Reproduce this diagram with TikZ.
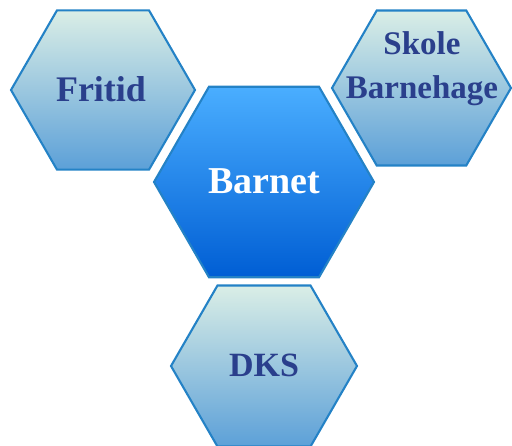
\documentclass[tikz,border=0pt]{standalone}
\usepackage{fontspec}
\setmainfont{Liberation Serif}
\usetikzlibrary{shapes.geometric}

\definecolor{hexline}{RGB}{36,130,198}
\definecolor{hextext}{RGB}{42,63,140}
\definecolor{paletop}{RGB}{218,238,230}
\definecolor{palebot}{RGB}{92,160,216}
\definecolor{deeptop}{RGB}{74,174,255}
\definecolor{deepbot}{RGB}{0,94,212}

\begin{document}
\begin{tikzpicture}[x=1pt, y=-1pt,
  hexcell/.style={regular polygon, regular polygon sides=6,
      draw=hexline, line width=2.1pt, inner sep=0pt,
      align=center, font=\bfseries},
  palecell/.style={hexcell, top color=paletop, bottom color=palebot,
      text=hextext},
  deepcell/.style={hexcell, top color=deeptop, bottom color=deepbot,
      text=white}]

\useasboundingbox (0,0) rectangle (512,446);

\node[palecell, minimum size=184pt] (fritid) at (103, 90) {};
\node[palecell, minimum size=179pt] (skole) at (421.5, 88) {};
\node[deepcell, minimum size=220pt] (barnet) at (264, 182) {};
\node[palecell, minimum size=186pt] (dks) at (264, 366) {};

% labels
\node[font=\bfseries\fontsize{36}{40}\selectfont, text=hextext]
(fritidtxt) at (101, 89) {Fritid};
\node[font=\bfseries\fontsize{33}{44}\selectfont, text=hextext, align=center]
(skoletxt) at (422, 69) {Skole\\Barnehage};
\node[font=\bfseries\fontsize{38}{42}\selectfont, text=white]
(barnettxt) at (264, 181) {Barnet};
\node[font=\bfseries\fontsize{34}{40}\selectfont, text=hextext]
(dkstxt) at (264, 365) {DKS};

\end{tikzpicture}
\end{document}
